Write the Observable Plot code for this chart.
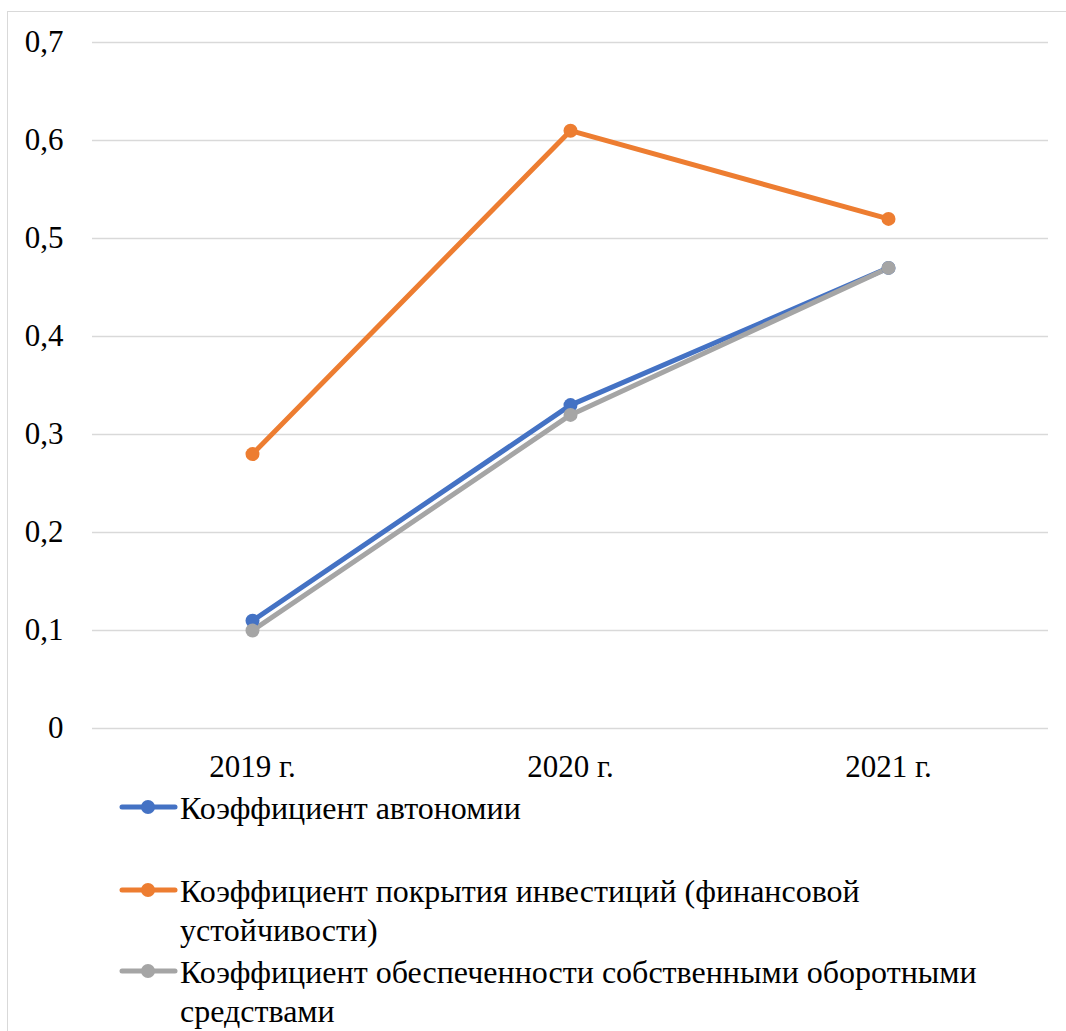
<!DOCTYPE html>
<html>
<head>
<meta charset="utf-8">
<script src="https://cdn.jsdelivr.net/npm/d3@7"></script>
<script src="https://cdn.jsdelivr.net/npm/@observablehq/plot@0.6"></script>
<style>
  html, body { margin: 0; padding: 0; background: #fff; }
  body { width: 1066px; height: 1031px; overflow: hidden; position: relative;
         font-family: "Liberation Serif", "Times New Roman", serif; }
  #frame { position: absolute; left: 7px; top: 11px; width: 1100px; height: 1100px;
           border: 1.5px solid #d9d9d9; box-sizing: border-box; }
  #chart { position: absolute; left: 0; top: 0; }
  #chart svg text { font-family: "Liberation Serif", "Times New Roman", serif; }
  #legend { position: absolute; left: 118px; top: 0; width: 900px;
            font-family: "Liberation Serif", "Times New Roman", serif;
            font-size: 32px; line-height: 39px; color: #000; }
  .item { display: flex; align-items: flex-start; width: 900px; position: absolute; left: 0; }
  .item svg { flex: none; margin-top: 7px; }
  .item span { display: block; width: 810px; flex: none; }
</style>
</head>
<body>
<div id="frame"></div>
<div id="chart"></div>
<div id="legend"></div>
<script>
const years = ["2019 г.", "2020 г.", "2021 г."];
const seriesNames = [
  "Коэффициент автономии",
  "Коэффициент покрытия инвестиций (финансовой устойчивости)",
  "Коэффициент обеспеченности собственными оборотными средствами"
];
const seriesColors = ["#4472C4", "#ED7D31", "#A5A5A5"];
const autonomy = [0.11, 0.33, 0.47];
const investmentCoverage = [0.28, 0.61, 0.52];
const workingCapital = [0.10, 0.32, 0.47];
const yTicks = [0, 0.1, 0.2, 0.3, 0.4, 0.5, 0.6, 0.7];

const seriesValues = [autonomy, investmentCoverage, workingCapital];
const data = seriesValues.flatMap((vals, i) =>
  vals.map((v, j) => ({ series: seriesNames[i], year: years[j], value: v })));

const fmt = d => d === 0 ? "0" : String(d).replace(".", ",");

const chart = Plot.plot({
  width: 1066,
  height: 800,
  marginTop: 42,
  marginBottom: 72,
  marginLeft: 92,
  marginRight: 18,
  style: { fontSize: "31px", color: "#000", background: "transparent" },
  x: { domain: years, type: "band", padding: 0 },
  y: { domain: [0, 0.7] },
  color: { domain: seriesNames, range: seriesColors },
  marks: [
    Plot.ruleY(yTicks, { stroke: "#d9d9d9", strokeWidth: 1.5 }),
    Plot.axisY({ ticks: yTicks, tickFormat: fmt, tickSize: 0, tickPadding: 29, label: null, fill: "#000", fontSize: 31 }),
    Plot.axisX({ tickSize: 0, tickPadding: 26, label: null, fill: "#000", fontSize: 31 }),
    Plot.line(data, { x: "year", y: "value", z: "series", stroke: "series", strokeWidth: 5 }),
    Plot.dot(data, { x: "year", y: "value", fill: "series", r: 7 })
  ]
});
document.getElementById("chart").appendChild(chart);

// legend entries: line swatch with a marker, then the series name
const legend = d3.select("#legend");
const legendRowsTop = [789, 872, 953];
seriesNames.forEach((name, i) => {
  const item = legend.append("div").attr("class", "item").style("top", legendRowsTop[i] + "px");
  const sw = item.append("svg").attr("width", 62).attr("height", 22);
  sw.append("line").attr("x1", 4).attr("x2", 57).attr("y1", 11).attr("y2", 11)
    .attr("stroke", seriesColors[i]).attr("stroke-width", 5).attr("stroke-linecap", "round");
  sw.append("circle").attr("cx", 30).attr("cy", 11).attr("r", 7).attr("fill", seriesColors[i]);
  item.append("span").text(name);
});
</script>
</body>
</html>
